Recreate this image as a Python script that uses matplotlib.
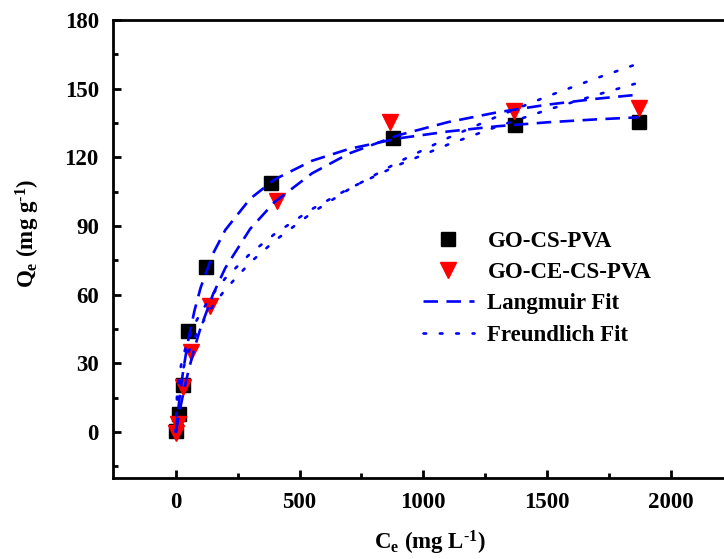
import matplotlib
matplotlib.use("Agg")
import matplotlib.pyplot as plt

plt.rcParams["font.family"] = ["Liberation Serif", "DejaVu Serif"]
plt.rcParams["font.weight"] = "bold"
plt.rcParams["axes.labelweight"] = "bold"
plt.rcParams["mathtext.fontset"] = "custom"
plt.rcParams["mathtext.rm"] = "Liberation Serif:bold"
plt.rcParams["mathtext.it"] = "Liberation Serif:bold"
plt.rcParams["mathtext.bf"] = "Liberation Serif:bold"

# measured points
ce_cs = [0, 13, 27, 50, 123, 386, 877, 1370, 1870]
qe_cs = [0.4, 7.7, 20.5, 44, 72, 109, 128.4, 134.2, 135.3]
ce_ce = [0, 7, 27, 63, 139, 407, 867, 1367, 1871]
qe_ce = [-0.5, 3.4, 19.5, 35, 55, 101, 135.3, 140.4, 141.6]

# fit curves
fit_c = [0, 5, 15, 30, 50, 75, 100, 150, 200, 300, 400, 550, 700, 900,
         1100, 1300, 1500, 1700, 1870]
lang_cs = [0, 5.3, 14.9, 27.0, 40.1, 52.9, 63.0, 77.9, 88.3, 101.9, 110.4,
           118.5, 123.7, 128.3, 131.3, 133.6, 135.3, 136.6, 137.5]
lang_ce = [0, 3.1, 8.9, 16.8, 26.3, 36.6, 45.5, 60.1, 71.7, 88.7, 100.6,
           113.0, 121.7, 129.7, 135.4, 139.7, 143.0, 145.6, 147.4]
freu_ce = [0, 13.0, 20.7, 27.8, 34.6, 41.1, 46.4, 55.2, 62.3, 74.0, 83.6,
           95.8, 106.1, 118.0, 128.5, 137.9, 146.6, 154.6, 161.0]
freu_cs = [0, 17.3, 26.0, 33.5, 40.4, 46.9, 52.1, 60.4, 67.2, 77.9, 86.6,
           97.4, 106.4, 116.7, 125.6, 133.5, 140.7, 147.3, 152.6]

fig = plt.figure(figsize=(7.24, 5.59), dpi=100)
ax = fig.add_axes([0.1557, 0.1452, 0.8443, 0.8190])

ax.plot(ce_cs, qe_cs, ls="none", marker="s", ms=9.6, color="black",
        label="GO-CS-PVA", zorder=2)
ax.plot(ce_ce, qe_ce, ls="none", marker="v", ms=11, color="red",
        label="GO-CE-CS-PVA", zorder=2)

dash = (0, (5.5, 3.2))
dot = (0, (1.0, 5.2))
ax.plot(fit_c, lang_cs, color="blue", lw=1.9, ls=dash, label="Langmuir Fit", zorder=3)
ax.plot(fit_c, lang_ce, color="blue", lw=1.9, ls=dash, zorder=3)
ax.plot(fit_c, freu_cs, color="blue", lw=1.9, ls=dot, label="Freundlich Fit",
        dash_capstyle="round", zorder=3)
ax.plot(fit_c, freu_ce, color="blue", lw=1.9, ls=dot, dash_capstyle="round", zorder=3)

ax.set_xlim(-255, 2215)
ax.set_ylim(-20, 180)
ax.set_xticks([0, 500, 1000, 1500, 2000])
ax.set_xticks([250, 750, 1250, 1750], minor=True)
ax.set_yticks([0, 30, 60, 90, 120, 150, 180])
ax.set_yticks([-15, 15, 45, 75, 105, 135, 165], minor=True)

ax.spines["right"].set_visible(False)
for s in ("left", "bottom", "top"):
    ax.spines[s].set_linewidth(2.0)
ax.tick_params(which="both", direction="in", top=False, right=False,
               width=2.0, labelsize=16.5, pad=10)
ax.tick_params(which="major", length=6)
ax.tick_params(which="minor", length=3.5)
for lab in ax.get_xticklabels() + ax.get_yticklabels():
    lab.set_fontweight("bold")

ax.set_xlabel("C$_{\\rm e}$ (mg L$^{\\rm \u2010 1}$)", fontsize=16.5)
ax.set_ylabel("Q$_{\\rm e}$ (mg g$^{\\rm \u2010 1}$)", fontsize=16.5)
ax.xaxis.set_label_coords(0.519, -0.112)
ax.yaxis.set_label_coords(-0.1157, 0.533)

ax.legend(loc="upper left", bbox_to_anchor=(0.508, 0.54), frameon=False,
          prop={"size": 16.5, "weight": "bold"}, handlelength=2.2,
          handletextpad=0.6, labelspacing=0.45, borderpad=0, borderaxespad=0)

fig.savefig("out.png", dpi=100)
